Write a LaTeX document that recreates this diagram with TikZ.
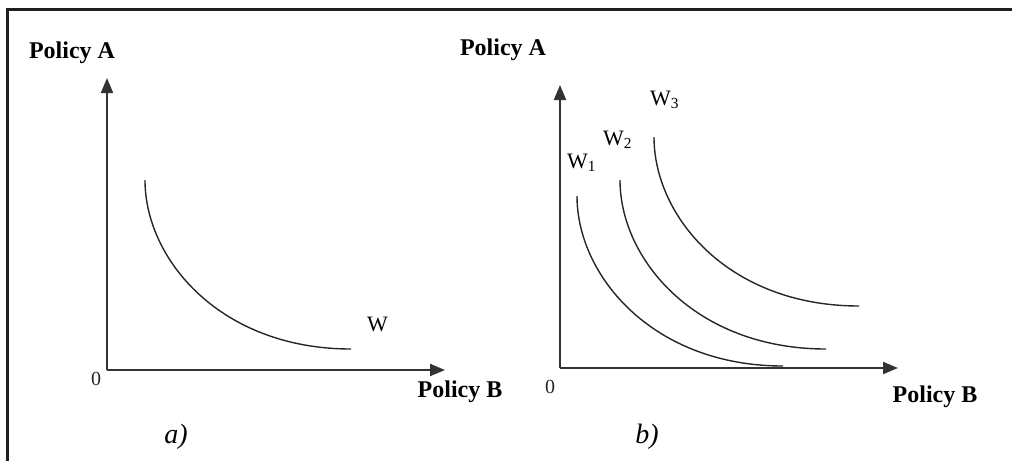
\documentclass[tikz,border=0pt]{standalone}
\usepackage{fontspec}
\setmainfont{Liberation Serif}
\usetikzlibrary{arrows.meta}
\begin{document}
\begin{tikzpicture}[x=1pt,y=-1pt,
  frameline/.style={line width=3pt,draw=black!88},
  axis/.style={line width=2pt,draw=black!80,-{Triangle[length=15pt,width=12pt]}},
  curve/.style={line width=1.4pt,draw=black!85},
  axlabel/.style={font=\fontsize{24}{28}\selectfont\bfseries,inner sep=0pt},
  zerolabel/.style={font=\fontsize{20}{24}\selectfont,inner sep=0pt,text=black!85},
  wlabel/.style={font=\fontsize{22}{26}\selectfont,inner sep=0pt,anchor=base west},
  panellabel/.style={font=\fontsize{28}{32}\selectfont\itshape,inner sep=0pt}]
\useasboundingbox (0,0) rectangle (1012,461);
% frame
\coordinate (fl) at (7,461);
\coordinate (fc) at (7,9);
\coordinate (fr) at (1012,9);
\draw[frameline] (fl) -- (fc) -- (fr);
% panel a axes
\coordinate (Oa) at (107,370);
\coordinate (Ya) at (107,78);
\coordinate (Xa) at (445,370);
\draw[axis] (Oa) -- (Ya);
\draw[axis] (Oa) -- (Xa);
% panel b axes
\coordinate (Ob) at (560,368);
\coordinate (Yb) at (560,85);
\coordinate (Xb) at (898,368);
\draw[axis] (Ob) -- (Yb);
\draw[axis] (Ob) -- (Xb);
% curves
\coordinate (ws) at (145,180); \coordinate (we) at (351,349);
\draw[curve] (ws) .. controls +(0,80) and +(-130,0) .. (we);
\coordinate (w1s) at (577,196); \coordinate (w1e) at (783,366);
\draw[curve] (w1s) .. controls +(0,80) and +(-130,0) .. (w1e);
\coordinate (w2s) at (620,180); \coordinate (w2e) at (826,349);
\draw[curve] (w2s) .. controls +(0,80) and +(-130,0) .. (w2e);
\coordinate (w3s) at (654,137); \coordinate (w3e) at (859,306);
\draw[curve] (w3s) .. controls +(0,80) and +(-130,0) .. (w3e);
% labels
\node[axlabel] (pAa) at (72,53) {Policy A};
\node[axlabel] (pBa) at (460,392) {Policy B};
\node[axlabel] (pAb) at (503,50) {Policy A};
\node[axlabel] (pBb) at (935,397) {Policy B};
\node[zerolabel] (za) at (96,379) {0};
\node[zerolabel] (zb) at (550,387) {0};
\node[wlabel] (lw) at (367,331) {W};
\node[wlabel] (lw1) at (567,168) {W\textsubscript{1}};
\node[wlabel] (lw2) at (603,145) {W\textsubscript{2}};
\node[wlabel] (lw3) at (650,105) {W\textsubscript{3}};
\node[panellabel] (pa) at (176,437) {a)};
\node[panellabel] (pb) at (647,437) {b)};
\end{tikzpicture}
\end{document}
